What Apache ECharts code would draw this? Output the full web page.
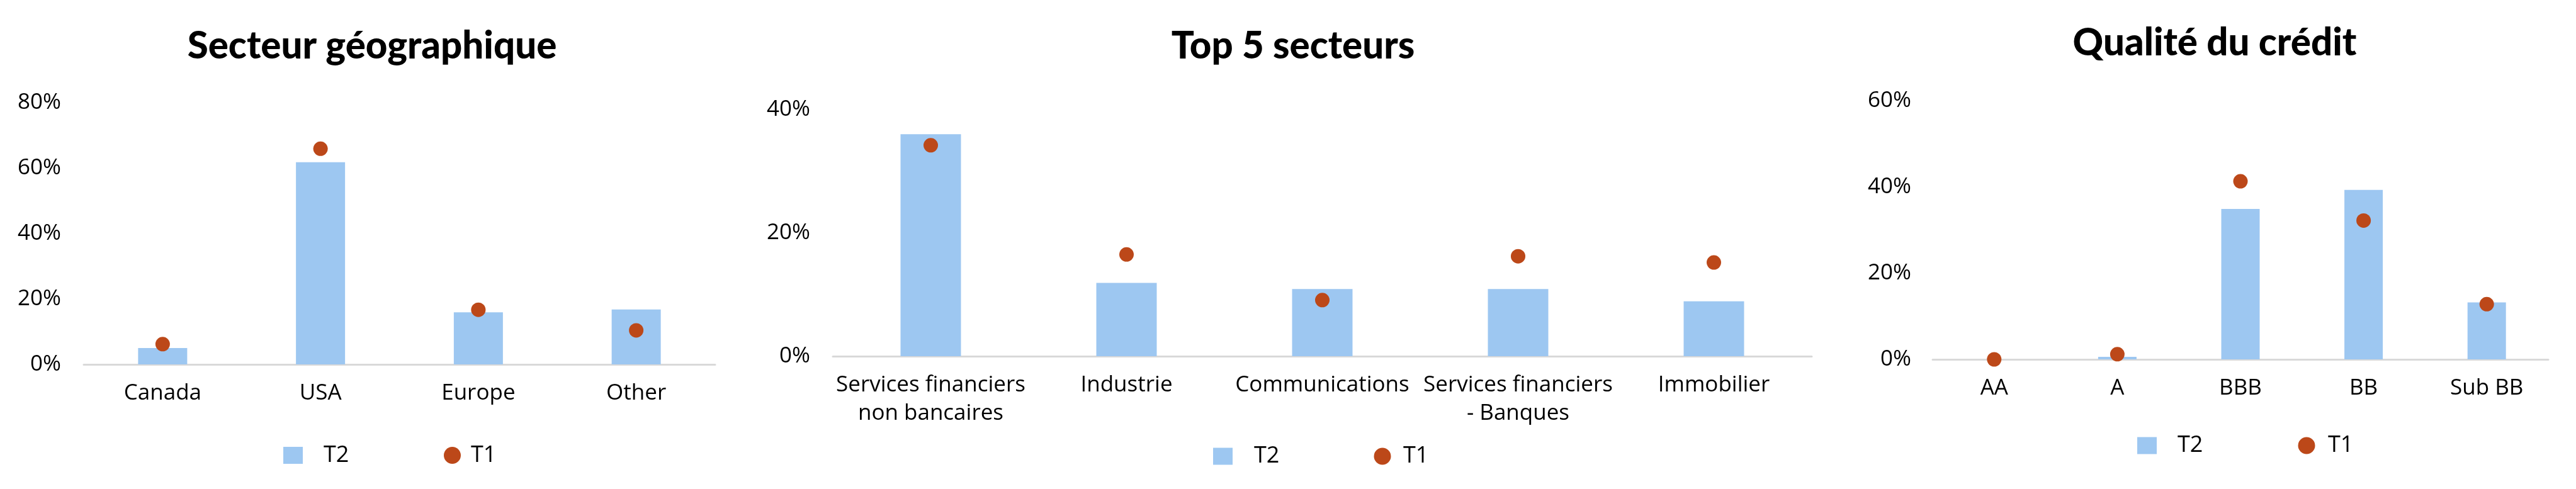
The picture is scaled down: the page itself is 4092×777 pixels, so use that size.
<!DOCTYPE html>
<html>
<head>
<meta charset="utf-8">
<script src="https://cdn.jsdelivr.net/npm/echarts@6/dist/echarts.min.js"></script>
<style>
html,body{margin:0;padding:0;background:#fff;overflow:hidden;}
#main{width:4092px;height:777px;}
</style>
</head>
<body>
<div id="main"></div>
<script>
// ---- data ----
const titles = ['Secteur géographique', 'Top 5 secteurs', 'Qualité du crédit'];
const seriesNames = ['T2', 'T1'];

const geoCategories = ['Canada', 'USA', 'Europe', 'Other'];
const geoT2 = [5, 61.8, 15.9, 16.8];
const geoT1 = [6.2, 65.9, 16.7, 10.4];
const geoTicks = { max: 80, interval: 20 };

const sectorCategories = ['Services financiers\nnon bancaires', 'Industrie', 'Communications', 'Services financiers\n- Banques', 'Immobilier'];
const sectorT2 = [36, 11.9, 10.9, 10.9, 8.9];
const sectorT1 = [34.2, 16.5, 9.1, 16.2, 15.2];
const sectorTicks = { max: 40, interval: 20 };

const creditCategories = ['AA', 'A', 'BBB', 'BB', 'Sub BB'];
const creditT2 = [0, 0.6, 34.9, 39.3, 13.2];
const creditT1 = [0, 1.2, 41.3, 32.2, 12.8];
const creditTicks = { max: 60, interval: 20 };

// ---- styling / layout ----
const BAR = '#9DC7F1';
const DOT = '#BC4819';
const AXIS = '#D9D9D9';
const FONT = '"Open Sans", Lato, sans-serif';
const TFONT = 'Lato, "Open Sans", sans-serif';

const panels = [
  { cats: geoCategories, t2: geoT2, t1: geoT1, ticks: geoTicks,
    grid: { left: 133, top: 163, width: 1003, height: 416 }, labelMargin: 36, barWidth: 78,
    titleX: 591, titleTop: 44,
    leg: { sqLeft: 450, top: 705.5, pad2: 28, dotLeft: 705, pad1: 11 } },
  { cats: sectorCategories, t2: sectorT2, t1: sectorT1, ticks: sectorTicks,
    grid: { left: 1323, top: 174, width: 1555, height: 392 }, labelMargin: 36, barWidth: 96,
    titleX: 2054, titleTop: 44,
    leg: { sqLeft: 1927, top: 707, pad2: 29, dotLeft: 2182.5, pad1: 14.5 } },
  { cats: creditCategories, t2: creditT2, t1: creditT1, ticks: creditTicks,
    grid: { left: 3070, top: 160, width: 978, height: 411 }, labelMargin: 34, barWidth: 61,
    titleX: 3518, titleTop: 39,
    leg: { sqLeft: 3395, top: 690, pad2: 28, dotLeft: 3650.5, pad1: 15.5 } }
];

const option = {
  backgroundColor: '#ffffff',
  animation: false,
  title: [], grid: [], xAxis: [], yAxis: [], series: [], legend: []
};

panels.forEach((p, i) => {
  option.title.push({
    text: titles[i], left: p.titleX, top: p.titleTop, textAlign: 'center', padding: 0,
    textStyle: { fontFamily: TFONT, fontWeight: 900, fontSize: 60, color: '#000' }
  });
  option.grid.push(Object.assign({ containLabel: false }, p.grid));
  option.xAxis.push({
    type: 'category', gridIndex: i, data: p.cats,
    axisLine: { show: true, lineStyle: { color: AXIS, width: 3 } },
    axisTick: { show: false }, splitLine: { show: false },
    axisLabel: { interval: 0, margin: 24, color: '#000', fontFamily: FONT, fontSize: 35, lineHeight: 45 }
  });
  option.yAxis.push({
    type: 'value', gridIndex: i, min: 0, max: p.ticks.max, interval: p.ticks.interval,
    axisLine: { show: false }, axisTick: { show: false }, splitLine: { show: false },
    axisLabel: { margin: p.labelMargin, color: '#000', fontFamily: FONT, fontSize: 35, formatter: '{value}%' }
  });
  option.series.push({
    name: seriesNames[0], type: 'bar', xAxisIndex: i, yAxisIndex: i, data: p.t2,
    barWidth: p.barWidth, itemStyle: { color: BAR, opacity: 1 }, z: 2
  });
  option.series.push({
    name: seriesNames[1], type: 'scatter', xAxisIndex: i, yAxisIndex: i, data: p.t1,
    symbol: 'circle', symbolSize: 23, itemStyle: { color: DOT, opacity: 1 }, z: 3
  });
  const ts = { fontFamily: FONT, fontSize: 36, color: '#000', lineHeight: 36 };
  option.legend.push({
    data: [{ name: seriesNames[0], icon: 'rect', itemStyle: { color: BAR, opacity: 1 } }],
    left: p.leg.sqLeft, top: p.leg.top, padding: 0,
    itemWidth: 31, itemHeight: 27, selectedMode: false,
    textStyle: Object.assign({ padding: [0, 0, 0, p.leg.pad2] }, ts)
  });
  option.legend.push({
    data: [{ name: seriesNames[1], icon: 'circle', itemStyle: { color: DOT, opacity: 1 } }],
    left: p.leg.dotLeft, top: p.leg.top, padding: 0,
    itemWidth: 27, itemHeight: 27, selectedMode: false,
    textStyle: Object.assign({ padding: [0, 0, 0, p.leg.pad1] }, ts)
  });
});

const chart = echarts.init(document.getElementById('main'), null, { renderer: 'canvas' });
chart.setOption(option);
</script>
</body>
</html>
